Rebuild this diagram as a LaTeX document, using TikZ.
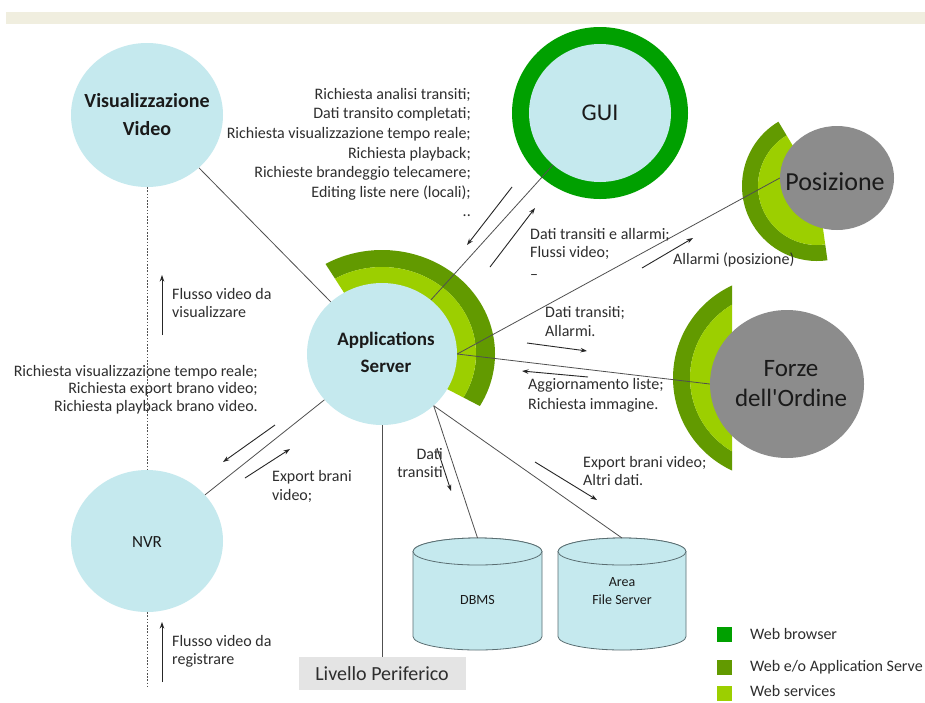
\documentclass[tikz,border=0pt]{standalone}
\usepackage{fontspec}
\setmainfont{Carlito}
\usetikzlibrary{shapes.geometric, arrows.meta, calc}
\definecolor{cyanfill}{HTML}{C5E9EE}
\definecolor{webbrowser}{HTML}{00A000}
\definecolor{webapp}{HTML}{629A00}
\definecolor{websrv}{HTML}{9CCF00}
\definecolor{graycol}{HTML}{8C8C8C}
\definecolor{beige}{HTML}{F0EEDF}
\definecolor{livgray}{HTML}{E4E4E4}
\definecolor{txt}{HTML}{2E2E2E}
\definecolor{nodetxt}{HTML}{1A1A1A}
\definecolor{linecol}{HTML}{505050}
\definecolor{cylline}{HTML}{5A6E72}
\newcommand\fsz[2]{\fontsize{#1}{#2}\selectfont}
\newcommand\ringsec[8]{%
  \fill[#1] ($#2+(#3:#5 and #6)$) arc[start angle=#3, end angle=#4, x radius=#5, y radius=#6]
    -- ($#2+(#4:#7 and #8)$) arc[start angle=#4, end angle=#3, x radius=#7, y radius=#8] -- cycle;}
\begin{document}
\begin{tikzpicture}[x=1pt,y=1pt,
  circ/.style={ellipse, fill=cyanfill, inner sep=0pt},
  grayc/.style={ellipse, fill=graycol, inner sep=0pt},
  ntext/.style={text=nodetxt, inner sep=0pt, align=center},
  conn/.style={draw=linecol, line width=0.8pt},
  dots/.style={draw=linecol, line width=1pt, dash pattern=on 1.6pt off 1.6pt},
  arr/.style={draw=black!85, line width=0.9pt, -{Stealth[length=6.5pt,width=4.5pt]}},
  lab/.style={text=txt, inner sep=0pt, font={\fsz{16}{19}}},
  cyl/.style={fill=cyanfill, draw=cylline, line width=0.8pt},
  legsq/.style={minimum size=15pt, inner sep=0pt},
]
\useasboundingbox (0,0) rectangle (925,-702);
\fill[white] (0,0) rectangle (925,-702);
% top bar
\fill[beige] (6,-12) rectangle (925,-24);

% green rings
\ringsec{webapp}{(382,-354)}{120}{-30}{113}{104}{94}{87}
\ringsec{websrv}{(382,-354)}{120}{-30}{94}{87}{64}{60}
\ringsec{webapp}{(817,-186)}{121}{278}{75}{75}{59}{59}
\ringsec{websrv}{(817,-186)}{121}{278}{59}{59}{30}{30}
\begin{scope}
  \clip (600,-250) rectangle (732,-500);
  \fill[webapp, even odd rule] (775,-378) circle[radius=102] (775,-378) circle[radius=85];
  \fill[websrv, even odd rule] (775,-378) circle[radius=85] (775,-378) circle[radius=55];
\end{scope}
\fill[webbrowser] (600,-113) ellipse[x radius=88, y radius=86];

% main circles
\node[circ, minimum width=152pt, minimum height=144pt] (vis) at (147,-115) {};
\node[circ, minimum width=150pt, minimum height=142pt] (app) at (382,-354) {};
\node[circ, minimum width=152pt, minimum height=142pt] (nvr) at (147,-541) {};
\node[circ, minimum width=142pt, minimum height=138pt] (gui) at (600,-113) {};
\node[grayc, minimum width=114pt, minimum height=104pt] (pos) at (837,-178) {};
\node[grayc, minimum width=154pt, minimum height=148pt] (forze) at (787,-384) {};

\node[ntext, font={\bfseries\fsz{20}{28}}] (vist) at (147,-115) {Visualizzazione\\Video};
\node[ntext, font={\bfseries\fsz{19}{27}}] (appt) at (386,-352) {Applications\\Server};
\node[ntext, font={\fsz{17}{20}}] (nvrt) at (147,-542) {NVR};
\node[ntext, font={\fsz{24}{28}}] (guit) at (600,-113) {GUI};
\node[ntext, font={\fsz{26}{30}}] (post) at (835,-182) {Posizione};
\node[ntext, font={\fsz{25}{30}}] (forzet) at (791,-384) {Forze\\dell\textquotesingle Ordine};

% cylinders
\path[cyl] (413,-551.5) -- (413,-636.5) arc[start angle=180,end angle=360,x radius=64.5,y radius=13.5]
  -- (542,-551.5) arc[start angle=0,end angle=180,x radius=64.5,y radius=13.5] -- cycle;
\draw[cyl] (477.5,-551.5) ellipse[x radius=64.5,y radius=13.5];
\path[cyl] (558,-551.5) -- (558,-636.5) arc[start angle=180,end angle=360,x radius=64,y radius=13.5]
  -- (686,-551.5) arc[start angle=0,end angle=180,x radius=64,y radius=13.5] -- cycle;
\draw[cyl] (622,-551.5) ellipse[x radius=64,y radius=13.5];
\coordinate (dbmstop) at (477.5,-538);
\coordinate (areatop) at (622,-538);
\node[ntext, font={\fsz{14}{18}}] (dbmst) at (477.5,-600) {DBMS};
\node[ntext, font={\fsz{14}{18}}] (areat) at (622,-591) {Area\\File Server};

% Livello Periferico
\node[fill=livgray, minimum width=167pt, minimum height=33pt, inner sep=0pt, text=txt, font={\fsz{20}{24}}] (liv) at (382,-673.5) {Livello Periferico};

% connectors
\draw[conn] (vis) -- (app);
\draw[conn] (app) -- (gui);
\draw[conn] (app.east) -- (pos.west);
\draw[conn] (app.east) -- (forze.west);
\draw[conn] (app) -- (nvr);
\draw[conn] (app.-45) -- (dbmstop);
\draw[conn] (app.-45) -- (areatop);
\draw[conn] (app.south) -- (liv.north);
\coordinate (dotend) at (147,-688);
\draw[dots] (vis.south) -- (nvr.north);
\draw[dots] (nvr.south) -- (dotend);

% free arrows
\coordinate (a1s) at (512,-187); \coordinate (a1e) at (467,-245);
\coordinate (a2s) at (490,-267); \coordinate (a2e) at (535,-208);
\coordinate (a3s) at (642,-268); \coordinate (a3e) at (693,-238);
\coordinate (a4s) at (527,-343); \coordinate (a4e) at (587,-351);
\coordinate (a5s) at (588,-377); \coordinate (a5e) at (522,-371);
\coordinate (a6s) at (275,-425); \coordinate (a6e) at (223,-462);
\coordinate (a7s) at (245,-478); \coordinate (a7e) at (290,-449);
\coordinate (a8s) at (437,-448); \coordinate (a8e) at (451,-491);
\coordinate (a9s) at (535,-462); \coordinate (a9e) at (597,-500);
\coordinate (a10s) at (162,-335); \coordinate (a10e) at (162,-275);
\coordinate (a11s) at (162,-682); \coordinate (a11e) at (162,-622);
\foreach \i in {1,...,11} {\draw[arr] (a\i s) -- (a\i e);}

% labels
\node[lab, anchor=north east, align=right, font={\fsz{16}{19.6}}] (l1) at (471,-88)
  {Richiesta analisi transiti;\\Dati transito completati;\\Richiesta visualizzazione tempo reale;\\Richiesta playback;\\Richieste brandeggio telecamere;\\Editing liste nere (locali);\\..};
\node[lab, anchor=north west, align=left, font={\fsz{16}{18}}] (l2) at (530,-228)
  {Dati transiti e allarmi;\\Flussi video;\\[4pt]--};
\node[lab, anchor=north west] (l3) at (673,-253) {Allarmi (posizione)};
\node[lab, anchor=north west, align=left] (l4) at (545,-306) {Dati transiti;\\Allarmi.};
\node[lab, anchor=north west, align=left, font={\fsz{16}{20}}] (l5) at (528,-378) {Aggiornamento liste;\\Richiesta immagine.};
\node[lab, anchor=north west, align=left] (l6) at (272,-470) {Export brani\\video;};
\node[lab, anchor=north east, align=right, font={\fsz{16}{18}}] (l7) at (443,-448) {Dati\\transiti};
\node[lab, anchor=north west, align=left, font={\fsz{16}{18.5}}] (l8) at (583,-456) {Export brani video;\\Altri dati.};
\node[lab, anchor=north west, align=left, font={\fsz{16}{18}}] (l9) at (172,-288) {Flusso video da\\visualizzare};
\node[lab, anchor=north east, align=right, font={\fsz{16}{17.5}}] (l10) at (258,-365)
  {Richiesta visualizzazione tempo reale;\\Richiesta export brano video;\\Richiesta playback brano video.};
\node[lab, anchor=north west, align=left, font={\fsz{16}{18}}] (l11) at (172,-635) {Flusso video da\\registrare};

% legend
\node[legsq, fill=webbrowser] (lg1) at (724.5,-634) {};
\node[legsq, fill=webapp] (lg2) at (724.5,-667) {};
\node[legsq, fill=websrv] (lg3) at (724.5,-693) {};
\node[lab, anchor=west] (lt1) at (750,-634) {Web browser};
\node[lab, anchor=west] (lt2) at (750,-667) {Web e/o Application Serve};
\node[lab, anchor=west] (lt3) at (750,-691) {Web services};
\end{tikzpicture}
\end{document}
